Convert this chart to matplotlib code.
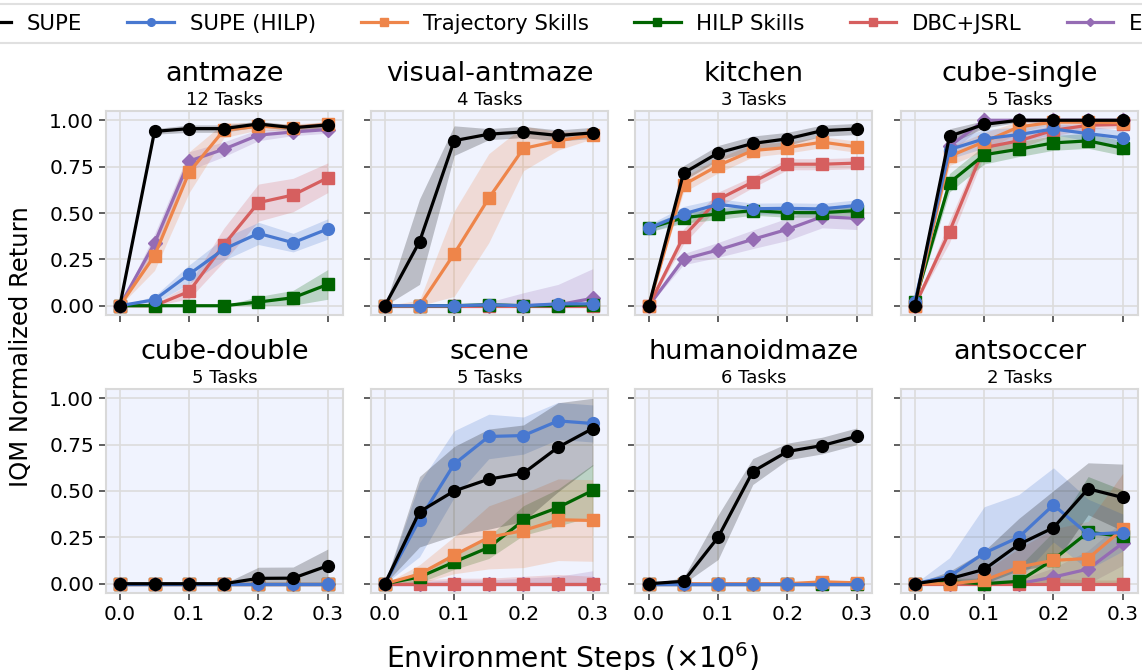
import numpy as np
import matplotlib
matplotlib.use("Agg")
import matplotlib.pyplot as plt

# environments and step grid
envs = ["antmaze", "visual-antmaze", "kitchen", "cube-single",
        "cube-double", "scene", "humanoidmaze", "antsoccer"]
n_tasks = [12, 4, 3, 5, 5, 5, 6, 2]
steps = [0, 0.05, 0.1, 0.15, 0.2, 0.25, 0.3]

methods = ["SUPE", "SUPE (HILP)", "Trajectory Skills", "HILP Skills", "DBC+JSRL", "ExPLORe"]
colors = ["#000000", "#4878d0", "#ee854a", "#006400", "#d65f5f", "#956cb4"]
markers = ["o", "o", "s", "s", "s", "D"]

Z = [0] * 7

# IQM normalized return, one row per env (order of envs)
supe_mean = [
    [0, 0.94, 0.955, 0.955, 0.98, 0.96, 0.975],
    [0, 0.345, 0.89, 0.925, 0.937, 0.918, 0.932],
    [0, 0.715, 0.824, 0.875, 0.90, 0.944, 0.953],
    [0, 0.914, 0.978, 1.0, 1.0, 1.0, 1.0],
    [0, 0, 0, 0, 0.029, 0.03, 0.097],
    [0, 0.388, 0.50, 0.564, 0.596, 0.736, 0.837],
    [0, 0.013, 0.251, 0.605, 0.713, 0.745, 0.795],
    [0, 0.027, 0.077, 0.212, 0.302, 0.512, 0.465],
]
supe_err = [
    [0, 0.015, 0.02, 0.02, 0.015, 0.015, 0.015],
    [0, 0.23, 0.08, 0.03, 0.03, 0.03, 0.03],
    [0, 0.04, 0.04, 0.04, 0.035, 0.03, 0.03],
    [0, 0.04, 0.02, 0.01, 0.01, 0.01, 0.01],
    [0, 0, 0, 0, 0.06, 0.06, 0.09],
    [0, 0.19, 0.24, 0.27, 0.26, 0.24, 0.2],
    [0, 0.02, 0.12, 0.07, 0.045, 0.045, 0.045],
    [0, 0.04, 0.1, 0.14, 0.2, 0.14, 0.18],
]
supe_hilp_mean = [
    [0, 0.032, 0.17, 0.305, 0.39, 0.34, 0.414],
    [0, 0, 0, 0.005, 0, 0.01, 0.01],
    [0.418, 0.495, 0.547, 0.523, 0.525, 0.522, 0.541],
    [0.02, 0.842, 0.90, 0.923, 0.953, 0.928, 0.905],
    Z,
    [0, 0.345, 0.645, 0.794, 0.799, 0.878, 0.864],
    Z,
    [0, 0.04, 0.165, 0.251, 0.425, 0.266, 0.276],
]
supe_hilp_err = [
    [0, 0.02, 0.05, 0.06, 0.06, 0.05, 0.055],
    [0, 0.005, 0.01, 0.01, 0.01, 0.01, 0.01],
    [0.02, 0.04, 0.03, 0.03, 0.03, 0.03, 0.03],
    [0.01, 0.05, 0.05, 0.04, 0.03, 0.04, 0.04],
    Z,
    [0, 0.2, 0.18, 0.12, 0.1, 0.1, 0.1],
    Z,
    [0, 0.1, 0.25, 0.23, 0.2, 0.19, 0.1],
]
traj_mean = [
    [0, 0.27, 0.72, 0.946, 0.968, 0.96, 0.978],
    [0, 0, 0.28, 0.58, 0.848, 0.889, 0.921],
    [0, 0.652, 0.756, 0.837, 0.853, 0.882, 0.857],
    [0, 0.806, 0.884, 0.964, 0.99, 0.99, 0.987],
    Z,
    [0, 0.052, 0.154, 0.25, 0.287, 0.345, 0.341],
    [0, 0, 0, 0, 0, 0.01, 0.005],
    [0, 0, 0.018, 0.09, 0.126, 0.136, 0.295],
]
traj_err = [
    [0, 0.08, 0.11, 0.04, 0.02, 0.02, 0.015],
    [0, 0.03, 0.23, 0.24, 0.12, 0.05, 0.02],
    [0, 0.04, 0.04, 0.035, 0.03, 0.03, 0.03],
    [0, 0.05, 0.05, 0.03, 0.01, 0.01, 0.015],
    Z,
    [0, 0.05, 0.1, 0.17, 0.2, 0.22, 0.22],
    [0, 0, 0, 0, 0.005, 0.01, 0.01],
    [0, 0.02, 0.05, 0.1, 0.17, 0.2, 0.3],
]
hilp_mean = [
    [0, 0, 0, 0, 0.02, 0.043, 0.115],
    [0, 0, 0, 0.005, 0, 0, 0.005],
    [0.418, 0.475, 0.495, 0.513, 0.502, 0.502, 0.513],
    [0.02, 0.663, 0.814, 0.844, 0.878, 0.889, 0.85],
    Z,
    [0, 0.036, 0.117, 0.196, 0.341, 0.411, 0.503],
    Z,
    [0, 0.01, 0, 0.013, 0.13, 0.278, 0.255],
]
hilp_err = [
    [0, 0, 0, 0, 0.03, 0.04, 0.08],
    [0, 0, 0, 0.005, 0.005, 0.005, 0.005],
    [0.02, 0.03, 0.03, 0.025, 0.025, 0.025, 0.025],
    [0.01, 0.05, 0.05, 0.04, 0.04, 0.04, 0.04],
    Z,
    [0, 0.03, 0.04, 0.06, 0.08, 0.1, 0.14],
    Z,
    [0, 0.02, 0.03, 0.08, 0.15, 0.3, 0.25],
]
dbc_mean = [
    [0, 0, 0.077, 0.328, 0.556, 0.597, 0.69],
    Z,
    [0, 0.373, 0.573, 0.667, 0.763, 0.763, 0.769],
    [0, 0.40, 0.853, 0.889, 0.946, 0.973, 0.978],
    Z, Z, Z, Z,
]
dbc_err = [
    [0, 0.01, 0.04, 0.09, 0.1, 0.09, 0.08],
    Z,
    [0, 0.04, 0.04, 0.03, 0.03, 0.03, 0.03],
    [0, 0.06, 0.04, 0.04, 0.03, 0.02, 0.02],
    Z,
    [0, 0.02, 0.03, 0.03, 0.04, 0.05, 0.04],
    Z,
    [0, 0.01, 0.02, 0.02, 0.03, 0.02, 0.02],
]
explore_mean = [
    [0, 0.337, 0.78, 0.844, 0.92, 0.937, 0.95],
    [0, 0, 0, 0, 0, 0.005, 0.04],
    [0, 0.251, 0.301, 0.358, 0.412, 0.48, 0.471],
    [0, 0.86, 1.0, 1.0, 1.0, 1.0, 1.0],
    Z, Z, Z,
    [0, 0, 0, 0, 0.036, 0.079, 0.219],
]
explore_err = [
    [0, 0.05, 0.05, 0.04, 0.03, 0.02, 0.02],
    [0, 0, 0, 0.02, 0.07, 0.11, 0.16],
    [0, 0.03, 0.04, 0.05, 0.06, 0.06, 0.06],
    [0, 0.04, 0.02, 0.01, 0.01, 0.01, 0.01],
    Z,
    [0, 0.01, 0.02, 0.02, 0.03, 0.04, 0.07],
    Z,
    [0, 0.01, 0.01, 0.02, 0.05, 0.1, 0.12],
]

means = [supe_mean, supe_hilp_mean, traj_mean, hilp_mean, dbc_mean, explore_mean]
errs = [supe_err, supe_hilp_err, traj_err, hilp_err, dbc_err, explore_err]

W, H = 1142, 670
fig = plt.figure(figsize=(W / 100, H / 100), dpi=100)

ax_left = [106, 371, 635, 901]
ax_top = [111, 389]
ax_w, ax_h = 237, 204

x = np.array(steps)
handles = [None] * len(methods)
for i, env in enumerate(envs):
    r, c = divmod(i, 4)
    ax = fig.add_axes([ax_left[c] / W, 1 - (ax_top[r] + ax_h) / H, ax_w / W, ax_h / H])
    ax.set_facecolor("#f0f3fe")
    # plot in reverse so SUPE ends up on top
    for m in range(len(methods) - 1, -1, -1):
        mu = np.array(means[m][i])
        e = np.array(errs[m][i])
        lo = np.clip(mu - e, 0, 1)
        hi = np.clip(mu + e, 0, 1)
        ax.fill_between(x, lo, hi, color=colors[m], alpha=0.22, lw=0)
        ms = {"o": 8.5, "s": 8.0, "D": 7.0}[markers[m]]
        ln, = ax.plot(x, mu, color=colors[m], marker=markers[m], lw=2.3, ms=ms)
        handles[m] = ln
    ax.set_xlim(-0.02, 0.322)
    ax.set_ylim(-0.05, 1.05)
    ax.set_xticks([0, 0.1, 0.2, 0.3])
    ax.set_yticks([0, 0.25, 0.5, 0.75, 1.0])
    ax.grid(True, color="#dcdcdc", lw=1.2)
    ax.set_axisbelow(True)
    for s in ax.spines.values():
        s.set_color("#d9d9d9")
        s.set_linewidth(1.5)
    ax.tick_params(labelsize=14.5, length=5, width=1.2, color="#444444")
    if r == 0:
        ax.set_xticklabels([])
    else:
        ax.set_xticklabels(["0.0", "0.1", "0.2", "0.3"])
    if c == 0:
        ax.set_yticklabels(["0.00", "0.25", "0.50", "0.75", "1.00"])
    else:
        ax.set_yticklabels([])
    ax.set_title("%d Tasks" % n_tasks[i], fontsize=13, pad=4.5)
    ax.text(0.5, 1 + 30 / ax_h, env, transform=ax.transAxes, ha="center",
            va="baseline", fontsize=19.5)

fig.text(21 / W, 1 - 347 / H, "IQM Normalized Return", rotation=90,
         ha="center", va="center", fontsize=17.5)
fig.text(572 / W, 1 - 668 / H, r"Environment Steps ($\times10^6$)",
         ha="center", va="baseline", fontsize=20.3)

leg = fig.legend(handles, methods, loc="upper left", bbox_to_anchor=(-45 / W, 1 - 4 / H),
                 ncol=6, fontsize=15.3, handlelength=2.2, columnspacing=2.12,
                 handletextpad=0.73, markerscale=0.65, frameon=True, fancybox=False,
                 borderaxespad=0, borderpad=0.45)
leg.get_frame().set_edgecolor("#d9d9d9")
leg.get_frame().set_linewidth(1.5)

fig.savefig("out.png", dpi=100)
